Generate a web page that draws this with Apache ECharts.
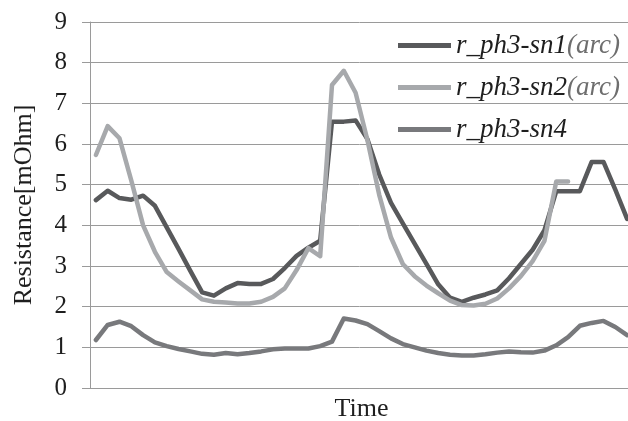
<!DOCTYPE html>
<html>
<head>
<meta charset="utf-8">
<script src="https://cdn.jsdelivr.net/npm/echarts@6/dist/echarts.min.js"></script>
<style>
  html, body { margin: 0; padding: 0; background: #ffffff; }
  #chart { width: 628px; height: 421px; }
</style>
</head>
<body>
<div id="chart"></div>
<script>
// Resistance over time for three phase-3 sensors (samples, unlabelled time axis)
const samples = Array.from({ length: 46 }, (_, i) => String(i + 1));

const sn1Arc = [
  4.62, 4.85, 4.67, 4.63, 4.73, 4.48, 3.95, 3.42, 2.88, 2.35,
  2.27, 2.45, 2.58, 2.56, 2.56, 2.68, 2.95, 3.25, 3.45, 3.62,
  6.55, 6.55, 6.58, 6.12, 5.25, 4.55, 4.05, 3.55, 3.05, 2.55,
  2.22, 2.12, 2.22, 2.3, 2.4, 2.7, 3.05, 3.4, 3.88, 4.84,
  4.84, 4.84, 5.56, 5.56, 4.88, 4.16
];

const sn2Arc = [
  5.73, 6.44, 6.14, 5.1, 4.0, 3.35, 2.85, 2.62, 2.4, 2.18,
  2.12, 2.1, 2.08, 2.08, 2.12, 2.24, 2.45, 2.9, 3.44, 3.24,
  7.45, 7.8, 7.26, 6.1, 4.75, 3.7, 3.05, 2.75, 2.52, 2.33,
  2.15, 2.04, 2.03, 2.07, 2.2, 2.45, 2.75, 3.12, 3.62, 5.08,
  5.08, null, null, null, null, null
];

const sn4 = [
  1.18, 1.55, 1.63, 1.52, 1.3, 1.12, 1.03, 0.96, 0.9, 0.84,
  0.82, 0.86, 0.83, 0.86, 0.9, 0.95, 0.97, 0.97, 0.97, 1.03,
  1.14, 1.71, 1.66, 1.57, 1.4, 1.22, 1.08, 1.0, 0.92, 0.86,
  0.82, 0.8, 0.8, 0.83, 0.87, 0.9, 0.88, 0.87, 0.92, 1.05,
  1.25, 1.53, 1.6, 1.65, 1.5, 1.3
];

const seriesNames = ['r_ph3-sn1(arc)', 'r_ph3-sn2(arc)', 'r_ph3-sn4'];
const seriesColors = ['#58595b', '#a7a9ac', '#78797c'];
const seriesData = [sn1Arc, sn2Arc, sn4];

const serif = '"Liberation Serif", "Times New Roman", serif';

const chart = echarts.init(document.getElementById('chart'), null, { renderer: 'canvas' });

chart.setOption({
  animation: false,
  backgroundColor: '#ffffff',
  grid: {
    left: 90, top: 22, right: -5, bottom: 33,
    containLabel: false,
    outerBoundsMode: 'none'
  },
  legend: {
    orient: 'vertical',
    left: 393,
    top: 27,
    icon: 'rect',
    itemWidth: 53,
    itemHeight: 5,
    itemGap: 15,
    data: seriesNames,
    formatter: function (name) {
      const m = name.match(/^(.*?)(\(arc\))?$/);
      return '{n|' + m[1] + '}' + (m[2] ? '{p|' + m[2] + '}' : '');
    },
    textStyle: {
      rich: {
        n: { fontFamily: serif, fontStyle: 'italic', fontSize: 27, color: '#1e1e1e' },
        p: { fontFamily: serif, fontStyle: 'italic', fontSize: 27, color: '#6e6e6e' }
      }
    }
  },
  xAxis: {
    type: 'category',
    data: samples,
    boundaryGap: true,
    name: 'Time',
    nameLocation: 'middle',
    nameGap: 8,
    nameTextStyle: { fontFamily: serif, fontSize: 26, color: '#1e1e1e' },
    axisLine: { show: true, lineStyle: { color: '#9a9a9a', width: 1 } },
    axisTick: { show: false },
    axisLabel: { show: false },
    splitLine: { show: false }
  },
  yAxis: {
    type: 'value',
    min: 0,
    max: 9,
    interval: 1,
    name: 'Resistance[mOhm]',
    nameLocation: 'middle',
    nameGap: 53,
    nameTextStyle: { fontFamily: serif, fontSize: 26, color: '#1e1e1e' },
    axisLine: { show: true, lineStyle: { color: '#9a9a9a', width: 1 } },
    axisTick: { show: true, length: 8, lineStyle: { color: '#9a9a9a', width: 1 } },
    axisLabel: { margin: 23, fontFamily: serif, fontSize: 25, color: '#1e1e1e' },
    splitLine: { show: true, lineStyle: { color: '#9a9a9a', width: 1 } }
  },
  series: seriesData.map((d, i) => ({
    name: seriesNames[i],
    type: 'line',
    data: d,
    showSymbol: false,
    symbol: 'none',
    connectNulls: false,
    itemStyle: { color: seriesColors[i] },
    lineStyle: { color: seriesColors[i], width: 4.5, join: 'round', cap: 'round' }
  }))
});
</script>
</body>
</html>
